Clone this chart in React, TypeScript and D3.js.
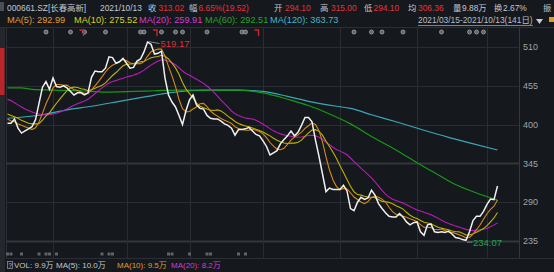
import React from "react";
import * as d3 from "d3";

const W = 554;
const H = 272;

// daily closes 2021/03/15 - 2021/10/13 (141 trading days)
const closes: number[] = [
  402, 402, 408, 395, 388, 391, 394, 397, 407, 430,
  453, 461, 450, 466, 454, 453, 455, 452, 447, 442,
  445, 445, 442, 445, 467, 476, 475, 475, 480, 496,
  495, 487, 489, 494, 487, 480, 481, 490, 493, 503,
  517, 514, 500, 501, 504, 466, 442, 432, 425, 413,
  400, 420, 435, 442, 428, 423, 422, 413, 409, 408,
  408, 405, 401, 399, 395, 385, 393, 393, 394, 396,
  391, 386, 384, 377, 369, 357, 360, 363, 373, 379,
  384, 391, 384, 389, 399, 410, 410, 404, 378, 355,
  330, 305, 310, 308, 308, 308, 314, 306, 281, 278,
  290, 297, 294, 296, 307, 300, 288, 281, 275, 270,
  269, 269, 274, 269, 262, 258, 261, 262, 248, 243,
  258, 259, 248, 247, 248, 247, 249, 245, 240, 239,
  237, 236, 248, 264, 270, 270, 277, 287, 294.5, 293.5,
  313.02,
];

// moving-average values before a full window is available
const ma5Head = [408, 405, 404, 401];
const ma10Head = [415, 413, 411, 409, 406, 404, 402, 401, 401];
const ma20Head = [436, 434, 431, 428, 425, 422, 420, 418, 416, 415, 414, 414, 414, 415, 416, 418, 420, 422, 425];

// long MAs read as [dayIndex, value]
const ma60Keys: [number, number][] = [
  [0, 452], [4, 452], [7, 450], [13, 449], [21, 448], [28, 446], [36, 447], [42, 448],
  [49, 449], [56, 449], [66, 449], [73, 445], [80, 436], [86, 427], [92, 415], [98, 401],
  [104, 383], [111, 364], [117, 346], [123, 329], [128, 315], [134, 303], [140, 293],
];
const ma120Keys: [number, number][] = [
  [0, 409], [10, 414], [17, 421], [24, 426], [32, 433], [40, 440], [46, 445], [52, 448],
  [58, 449], [66, 449], [73, 447], [80, 440], [86, 433], [94, 426], [98, 423], [104, 414],
  [111, 404], [119, 392], [126, 382], [132, 374], [140, 364],
];

const yTicks = [510, 455, 400, 345, 290, 235];
const boldTicks = [345, 235];
const monthStarts = [13, 34, 52, 73, 95, 117, 137];
const eventDots = [11, 18, 22, 28, 38, 39, 44, 48, 50, 57, 67, 68, 99, 104, 107, 113, 124, 132, 134, 136];
const eventFlags = [21, 42, 71];
const bottomMarks = [0, 1, 4, 9, 11, 12, 14, 27, 29, 30, 46, 47, 52, 57, 58, 66, 68];

const highIdx = 40;
const highVal = 519.17;
const lowIdx = 131;
const lowVal = 234.07;

const GRAY = "#c3c7cd";
const RED = "#e2343c";
const C_MA5 = "#d98a17";
const C_MA10 = "#bdb400";
const C_MA20 = "#b81cb8";
const C_MA60 = "#159a15";
const C_MA120 = "#38a8b6";

const header1: [number, string, string][] = [
  [7, "000661.SZ[长春高新]", GRAY],
  [100, "2021/10/13", GRAY],
  [148, "收", GRAY], [158.5, "313.02", RED],
  [189, "幅", GRAY], [198.5, "6.65%(19.52)", RED],
  [274, "开", GRAY], [285, "294.10", RED],
  [320, "高", GRAY], [331, "315.00", RED],
  [364, "低", GRAY], [373.5, "294.10", RED],
  [408, "均", GRAY], [418, "306.36", RED],
  [453, "量", GRAY], [462, "9.88万", GRAY],
  [494, "换", GRAY], [503, "2.67%", GRAY],
  [543, "振", GRAY],
];
const header2: [number, string, string][] = [
  [7, "MA(5): 292.99", "#e39b2a"],
  [74, "MA(10): 275.52", "#d8d21e"],
  [139, "MA(20): 259.91", "#d43bd4"],
  [205, "MA(60): 292.51", "#27a527"],
  [270, "MA(120): 363.73", "#45b5c9"],
];
const volRow: [number, string, string][] = [
  [14, "VOL: 9.9万", GRAY],
  [56, "MA(5): 10.0万", GRAY],
  [117, "MA(10): 9.5万", "#e39b2a"],
  [171, "MA(20): 8.2万", "#d43bd4"],
];

const FONT = "'Liberation Sans', 'Noto Sans CJK SC', sans-serif";

function rolling(n: number, head: number[]): number[] {
  return closes.map((_, i) => (i < head.length ? head[i] : (d3.mean(closes.slice(i - n + 1, i + 1)) as number)));
}

export default function App() {
  const x = d3.scaleLinear().domain([0, 140]).range([7.5, 497.5]);
  const y = d3.scaleLinear().domain([235, 510]).range([241, 47]);

  const line = d3
    .line<number>()
    .x((_, i) => x(i))
    .y((d) => y(d));
  const keyLine = d3
    .line<[number, number]>()
    .x((d) => x(d[0]))
    .y((d) => y(d[1]))
    .curve(d3.curveMonotoneX);

  const ma5 = rolling(5, ma5Head);
  const ma10 = rolling(10, ma10Head);
  const ma20 = rolling(20, ma20Head);

  const plotL = 6;
  const plotR = 519;
  const top = 28;
  const bottom = 258;

  return (
    <svg width={W} height={H} style={{ position: "absolute", left: 0, top: 0, background: "#15181d" }} fontFamily={FONT}>
      <rect x={0} y={0} width={W} height={H} fill="#15181d" />
      {/* left sidebar */}
      <rect x={0} y={28} width={5} height={244} fill="#24272d" />
      <rect x={0} y={48} width={4.5} height={47} fill="#b8262a" />
      <rect x={0} y={2} width={4} height={9} fill="#4a4e55" />
      {/* frame lines */}
      <line x1={0} x2={W} y1={top - 0.5} y2={top - 0.5} stroke="#2b2f35" />
      <line x1={plotL + 0.5} x2={plotL + 0.5} y1={top} y2={bottom} stroke="#2b2f35" />
      <line x1={plotR + 0.5} x2={plotR + 0.5} y1={top} y2={bottom} stroke="#34383e" />
      <line x1={plotL} x2={W} y1={bottom + 0.5} y2={bottom + 0.5} stroke="#2b2f35" />
      {/* grid */}
      {yTicks.map((t) => (
        <line
          key={"h" + t}
          x1={plotL}
          x2={plotR}
          y1={Math.round(y(t)) + 0.5}
          y2={Math.round(y(t)) + 0.5}
          stroke={boldTicks.includes(t) ? "#33373d" : "#292d33"}
          strokeWidth={boldTicks.includes(t) ? 2 : 1}
        />
      ))}
      {monthStarts.map((m) => (
        <line key={"v" + m} x1={Math.round(x(m)) + 0.5} x2={Math.round(x(m)) + 0.5} y1={top} y2={bottom} stroke="#292d33" />
      ))}
      {/* y axis labels */}
      {yTicks.map((t) => (
        <text key={"t" + t} x={523} y={y(t) + 3.2} fontSize={9} fill="#9fa4ab">
          {t}
        </text>
      ))}
      {/* event markers */}
      {eventDots.map((d, k) => (
        <circle key={"e" + k} cx={x(d)} cy={32} r={2} fill="#5d6168" stroke="#a4a8ae" strokeWidth={0.8} />
      ))}
      {eventFlags.map((d, k) => (
        <path key={"f" + k} d={`M${x(d) - 1.5},30 h4 v3 M${x(d) + 2.5},30 v6`} stroke="#d0232b" strokeWidth={1.4} fill="none" />
      ))}
      {bottomMarks.map((d, k) => (
        <rect key={"b" + k} x={x(d) - 1.5} y={252.5} width={3} height={3} fill="#5f636a" />
      ))}
      {/* MA lines */}
      <path d={keyLine(ma120Keys) || ""} fill="none" stroke={C_MA120} strokeWidth={1.2} />
      <path d={keyLine(ma60Keys) || ""} fill="none" stroke={C_MA60} strokeWidth={1.2} />
      <path d={line(ma20) || ""} fill="none" stroke={C_MA20} strokeWidth={1.1} />
      <path d={line(ma10) || ""} fill="none" stroke={C_MA10} strokeWidth={1.1} />
      <path d={line(ma5) || ""} fill="none" stroke={C_MA5} strokeWidth={1.1} />
      <path d={line(closes) || ""} fill="none" stroke="#f0f0f0" strokeWidth={1.5} />
      {/* high / low annotations */}
      <line x1={x(highIdx) + 1} y1={y(highVal) + 1} x2={x(highIdx) + 12} y2={y(highVal) + 3} stroke="#9a9ea5" strokeWidth={0.8} />
      <text x={x(highIdx) + 13} y={y(highVal) + 6.5} fontSize={9.5} fill="#d8323a">
        {highVal.toFixed(2)}
      </text>
      <line x1={x(lowIdx) + 1} y1={y(lowVal) + 0.5} x2={x(lowIdx) + 6.5} y2={y(lowVal) + 0.5} stroke="#9a9ea5" strokeWidth={0.8} />
      <text x={x(lowIdx) + 7} y={y(lowVal) + 4} fontSize={9.5} fill="#22a64c">
        {lowVal.toFixed(2)}
      </text>
      {/* header rows */}
      {header1.map(([px, s, c], k) => (
        <text key={"h1" + k} x={px} y={10.5} fontSize={8.4} fill={c}>
          {s}
        </text>
      ))}
      {header2.map(([px, s, c], k) => (
        <text key={"h2" + k} x={px} y={23} fontSize={9.2} fill={c}>
          {s}
        </text>
      ))}
      <text x={418} y={23} fontSize={8.4} fill="#b9bdc3">
        2021/03/15-2021/10/13(141日)
      </text>
      <line x1={418} x2={533} y1={25.5} y2={25.5} stroke="#9a9ea5" strokeWidth={0.8} />
      <path d="M536,19 h7 l-3.5,5 z" fill="#c9cdd3" />
      <rect x={549} y={17} width={5} height={5} fill="#e29a22" />
      {/* volume title */}
      <rect x={7.5} y={261.5} width={5} height={7} fill="none" stroke="#8a8e95" strokeWidth={0.8} />
      <text x={8.3} y={267.6} fontSize={6.5} fill="#c3c7cd">?</text>
      {volRow.map(([px, s, c], k) => (
        <text key={"v" + k} x={px} y={268} fontSize={8} fill={c}>
          {s}
        </text>
      ))}
    </svg>
  );
}
